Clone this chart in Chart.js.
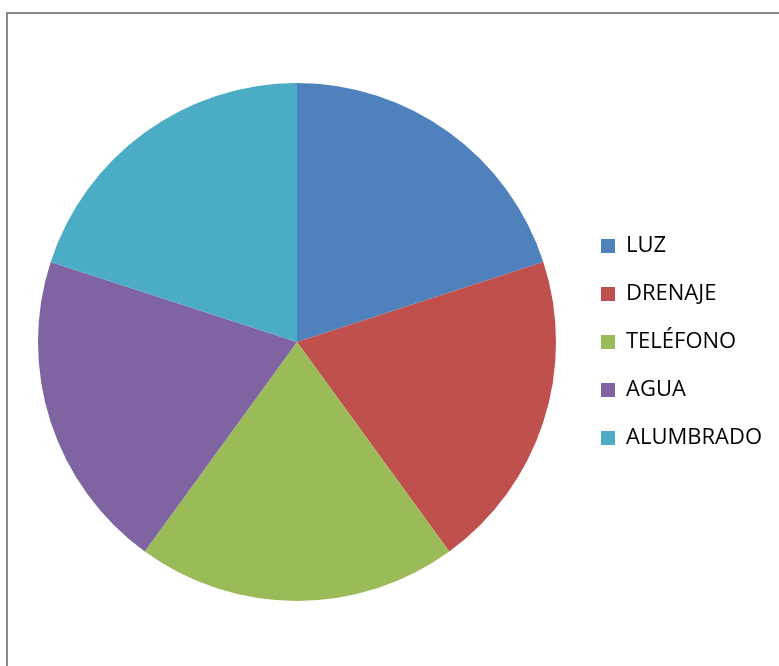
<!DOCTYPE html>
<html>
<head>
<meta charset="utf-8">
<script src="https://cdn.jsdelivr.net/npm/chart.js@4"></script>
<style>
  html, body { margin: 0; padding: 0; background: #fff; overflow: hidden; }
  #wrap { position: absolute; left: 0; top: 0; width: 779px; height: 666px; }
  #frame { position: absolute; left: 6px; top: 12px; width: 800px; height: 700px; border: 2px solid #888; box-sizing: border-box; }
</style>
</head>
<body>
<div id="frame"></div>
<div id="wrap"><canvas id="chart"></canvas></div>
<script>
const labels = ["LUZ", "DRENAJE", "TELÉFONO", "AGUA", "ALUMBRADO"];
const values = [20, 20, 20, 20, 20];
const colors = ["#4F81BD", "#C0504D", "#9BBB59", "#8064A2", "#4BACC6"];

let ctx = document.getElementById("chart").getContext("2d");
let chart = new Chart(ctx, {
    type: "pie",
    data: {
        labels: labels,
        datasets: [
            {
                data: values,
                backgroundColor: colors,
                borderWidth: 0,
            },
        ],
    },
    options: {
        responsive: true,
        maintainAspectRatio: false,
        animation: false,
        layout: {
            padding: { left: 19, top: 83, bottom: 65, right: 7 }
        },
        plugins: {
            tooltip: { enabled: false },
            legend: {
                position: "right",
                labels: {
                    color: "#000",
                    font: { family: "'Open Sans'", size: 22 },
                    boxWidth: 14,
                    boxHeight: 14,
                    padding: 26,
                },
            },
        },
    },
});
</script>
</body>
</html>
